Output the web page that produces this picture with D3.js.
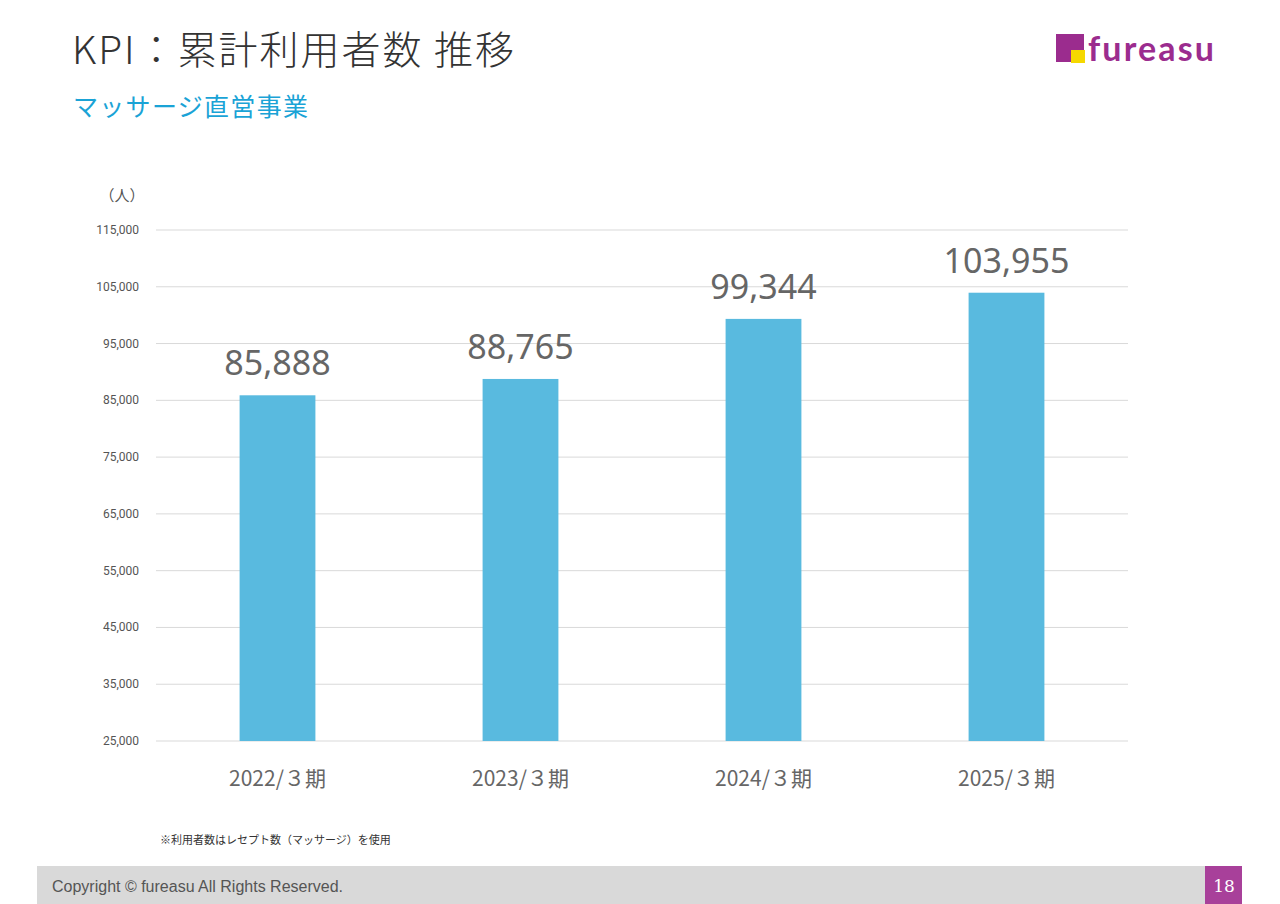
<!DOCTYPE html>
<html><head><meta charset="utf-8">
<script src="https://cdn.jsdelivr.net/npm/d3@7"></script>
<style>body{margin:0;background:#fff;font-family:"Noto Sans CJK JP","Noto Sans",sans-serif}</style>
</head><body><svg width="1280" height="904"></svg>
<script>
/* Data */
const periods = ["2022/３期", "2023/３期", "2024/３期", "2025/３期"];
const users = [85888, 88765, 99344, 103955];
const yTicks = [25000, 35000, 45000, 55000, 65000, 75000, 85000, 95000, 105000, 115000];

const svg = d3.select("svg");
const font = '"Noto Sans CJK JP","Noto Sans",sans-serif';

// Titles
svg.append("text").attr("x", 72).attr("y", 64).attr("font-size", 39).attr("fill", "#333")
  .attr("font-family", font).attr("font-weight", 300).attr("textLength", 442).text("KPI：累計利用者数 推移");
svg.append("text").attr("x", 73).attr("y", 116).attr("font-size", 25).attr("fill", "#1aa3d6")
  .attr("font-family", font).attr("textLength", 235).text("マッサージ直営事業");

// Logo
svg.append("rect").attr("x", 1056).attr("y", 34).attr("width", 28).attr("height", 28).attr("fill", "#9b2c8e");
svg.append("rect").attr("x", 1071).attr("y", 50).attr("width", 14).attr("height", 13).attr("fill", "#f5d800");
svg.append("text").attr("x", 1088).attr("y", 61).attr("font-size", 34).attr("font-weight", "bold")
  .attr("fill", "#9b2c8e").attr("font-family", "Lato,sans-serif").attr("textLength", 126).text("fureasu");

// Scales
const x = d3.scaleBand().domain(periods).range([156, 1128]).paddingInner(0.688).paddingOuter(0.344);
const y = d3.scaleLinear().domain([25000, 115000]).range([741, 230]);

// Grid
svg.append("g").selectAll("line").data(yTicks).join("line")
  .attr("x1", 156).attr("x2", 1128).attr("y1", d => y(d)).attr("y2", d => y(d))
  .attr("stroke", "#d9d9d9").attr("stroke-width", 1);

// Y axis labels
svg.append("g").selectAll("text").data(yTicks).join("text")
  .attr("x", 139).attr("y", d => y(d) + 4).attr("text-anchor", "end")
  .attr("font-size", 12).attr("fill", "#555").attr("font-family", "Roboto,sans-serif")
  .text(d => d3.format(",")(d));
svg.append("text").attr("x", 122).attr("y", 201).attr("text-anchor", "middle").attr("font-size", 15)
  .attr("fill", "#555").attr("font-family", font).text("（人）");

// Bars
svg.append("g").selectAll("rect").data(users).join("rect")
  .attr("x", (d, i) => x(periods[i])).attr("width", x.bandwidth())
  .attr("y", d => y(d)).attr("height", d => y(25000) - y(d)).attr("fill", "#59badf");

// Value labels
svg.append("g").selectAll("text").data(users).join("text")
  .attr("x", (d, i) => x(periods[i]) + x.bandwidth() / 2).attr("y", d => y(d) - 20)
  .attr("text-anchor", "middle").attr("font-size", 34).attr("fill", "#666")
  .attr("font-family", "Noto Sans,sans-serif").text(d => d3.format(",")(d));

// X labels
svg.append("g").selectAll("text").data(periods).join("text")
  .attr("x", d => x(d) + x.bandwidth() / 2).attr("y", 786).attr("text-anchor", "middle")
  .attr("font-size", 21).attr("fill", "#666").attr("font-family", font).text(d => d);

// Note
svg.append("text").attr("x", 160).attr("y", 844).attr("font-size", 11).attr("fill", "#333")
  .attr("font-family", font).text("※利用者数はレセプト数（マッサージ）を使用");

// Footer
svg.append("rect").attr("x", 37).attr("y", 866).attr("width", 1168).attr("height", 38).attr("fill", "#d9d9d9");
svg.append("rect").attr("x", 1205).attr("y", 866).attr("width", 37).attr("height", 38).attr("fill", "#a8409a");
svg.append("text").attr("x", 52).attr("y", 892).attr("font-size", 16).attr("fill", "#555")
  .attr("font-family", "Liberation Sans,Arial,sans-serif").text("Copyright © fureasu All Rights Reserved.");
svg.append("text").attr("x", 1224).attr("y", 892).attr("text-anchor", "middle").attr("font-size", 17)
  .attr("fill", "#fff").attr("font-family", "DejaVu Serif,serif").text("18");
</script></body></html>
